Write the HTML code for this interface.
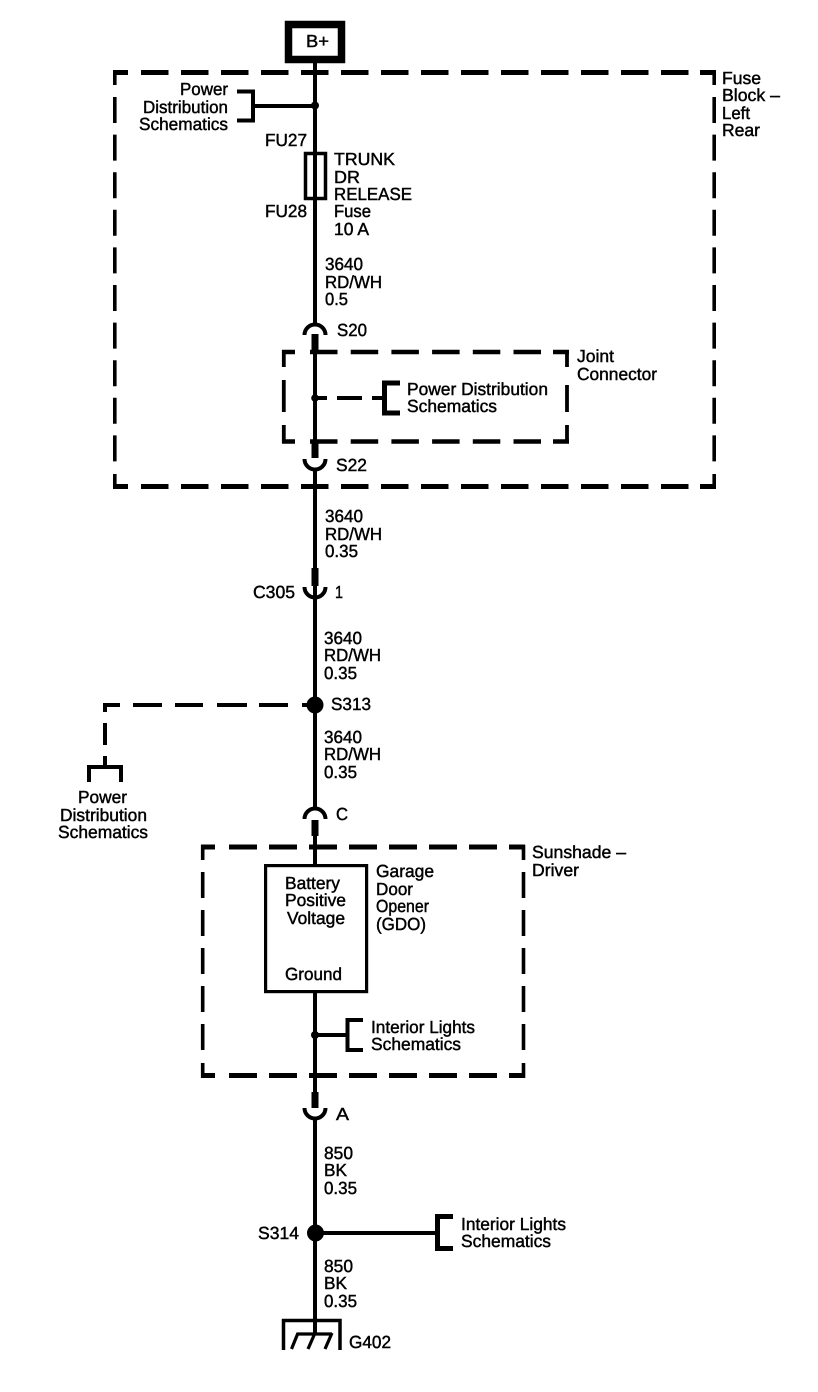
<!DOCTYPE html>
<html>
<head>
<meta charset="utf-8">
<style>
html,body{margin:0;padding:0;background:#fff;width:818px;height:1392px;overflow:hidden}
svg{display:block}
text{font-family:"Liberation Sans",sans-serif;font-size:17.5px;fill:#000;stroke:#000;stroke-width:.45;text-rendering:geometricPrecision}
.l{fill:none;stroke:#000;stroke-width:4}
.h{fill:none;stroke:#000;stroke-width:5}
.v{fill:none;stroke:#000;stroke-width:3.6}
</style>
</head>
<body>
<svg width="818" height="1392" viewBox="0 0 818 1392" xmlns="http://www.w3.org/2000/svg">
<!-- B+ -->
<rect x="288.5" y="24.500" width="53" height="35" fill="#fff" stroke="#000" stroke-width="7.5"/>
<text x="306" y="47" textLength="23" lengthAdjust="spacingAndGlyphs">B+</text>
<!-- main wire -->
<path class="l" d="M315 63V324M315 334V458M315 470V598M315 586V808M315 836V865M315 992V1108M315 1120V1333"/>
<!-- outer dashed -->
<path class="h" stroke-dasharray="27.500 12.500" d="M141 72.500H690"/>
<path class="h" d="M113 72.500H128M700 72.500H716"/>
<path class="h" stroke-dasharray="27.500 12.500" d="M141 486.500H690"/>
<path class="h" d="M113 486.500H128M700 486.500H716"/>
<path class="v" d="M114.800 70V85M714.200 70V85M114.800 474V489M714.200 474V489"/>
<path class="v" stroke-dasharray="26 11.600" d="M114.800 97V465"/>
<path class="v" stroke-dasharray="26 11.600" d="M714.200 97V465"/>
<!-- inner dashed -->
<path d="M310 352H552" fill="none" stroke="#000" stroke-width="4.500" stroke-dasharray="27.500 13.200"/>
<path d="M310 441.500H552" fill="none" stroke="#000" stroke-width="4.500" stroke-dasharray="27.500 13.200"/>
<path d="M282 352H295M553 352H569M282 441.500H295M553 441.500H569" fill="none" stroke="#000" stroke-width="4.500"/>
<path class="v" d="M283.800 350V367M283.800 380V412M283.800 425V443M567 350V367M567 385V412M567 425V443" style="stroke-width:3.800"/>
<!-- power dist top -->
<path class="l" d="M237 91.500H253V120.500H237M253 106H315"/>
<circle cx="315" cy="105.500" r="4"/>
<text x="180" y="95" textLength="48" lengthAdjust="spacingAndGlyphs">Power</text>
<text x="143" y="113" textLength="85" lengthAdjust="spacingAndGlyphs">Distribution</text>
<text x="139" y="130" textLength="89" lengthAdjust="spacingAndGlyphs">Schematics</text>
<text x="722" y="84" textLength="39" lengthAdjust="spacingAndGlyphs">Fuse</text>
<text x="722" y="101" textLength="58" lengthAdjust="spacingAndGlyphs">Block –</text>
<text x="722" y="119" textLength="28" lengthAdjust="spacingAndGlyphs">Left</text>
<text x="722" y="136" textLength="38" lengthAdjust="spacingAndGlyphs">Rear</text>
<!-- fuse -->
<rect x="305.500" y="153.500" width="20" height="45" fill="none" stroke="#000" stroke-width="3.500"/>
<text x="265" y="146" textLength="42" lengthAdjust="spacingAndGlyphs">FU27</text>
<text x="265" y="217" textLength="42" lengthAdjust="spacingAndGlyphs">FU28</text>
<text x="334" y="165" textLength="61" lengthAdjust="spacingAndGlyphs">TRUNK</text>
<text x="334" y="183" textLength="26" lengthAdjust="spacingAndGlyphs">DR</text>
<text x="334" y="200" textLength="78" lengthAdjust="spacingAndGlyphs">RELEASE</text>
<text x="334" y="217" textLength="37" lengthAdjust="spacingAndGlyphs">Fuse</text>
<text x="334" y="235" textLength="35" lengthAdjust="spacingAndGlyphs">10 A</text>
<text x="325" y="270" textLength="38" lengthAdjust="spacingAndGlyphs">3640</text>
<text x="325" y="288" textLength="57" lengthAdjust="spacingAndGlyphs">RD/WH</text>
<text x="325" y="305" textLength="23" lengthAdjust="spacingAndGlyphs">0.5</text>
<!-- S20 -->
<path class="l" d="M304.500 335A10.500 10.500 0 0 1 325.500 335"/>
<rect x="311.500" y="334" width="7" height="19"/>
<text x="337" y="336" textLength="30" lengthAdjust="spacingAndGlyphs">S20</text>
<text x="577" y="362" textLength="37" lengthAdjust="spacingAndGlyphs">Joint</text>
<text x="577" y="380" textLength="80" lengthAdjust="spacingAndGlyphs">Connector</text>
<!-- joint branch -->
<circle cx="315" cy="398" r="3.800"/>
<path class="l" d="M315 398H327M337 398H362M372 398H384"/>
<path d="M400 383H384.500V413H400" fill="none" stroke="#000" stroke-width="5"/>
<text x="407" y="395" textLength="141" lengthAdjust="spacingAndGlyphs">Power Distribution</text>
<text x="407" y="412" textLength="90" lengthAdjust="spacingAndGlyphs">Schematics</text>
<!-- S22 -->
<rect x="311.500" y="441" width="7" height="17"/>
<path class="l" d="M304.500 459A10.500 10.500 0 0 0 325.500 459"/>
<text x="336" y="471" textLength="31" lengthAdjust="spacingAndGlyphs">S22</text>
<text x="325" y="522" textLength="38" lengthAdjust="spacingAndGlyphs">3640</text>
<text x="325" y="540" textLength="57" lengthAdjust="spacingAndGlyphs">RD/WH</text>
<text x="325" y="557" textLength="33" lengthAdjust="spacingAndGlyphs">0.35</text>
<!-- C305 -->
<rect x="311.500" y="568" width="7" height="18"/>
<path class="l" d="M304.500 587A10.500 10.500 0 0 0 325.500 587"/>
<text x="253" y="598" textLength="42" lengthAdjust="spacingAndGlyphs">C305</text>
<text x="335" y="598" textLength="8" lengthAdjust="spacingAndGlyphs">1</text>
<text x="324" y="644" textLength="38" lengthAdjust="spacingAndGlyphs">3640</text>
<text x="324" y="661" textLength="57" lengthAdjust="spacingAndGlyphs">RD/WH</text>
<text x="324" y="679" textLength="33" lengthAdjust="spacingAndGlyphs">0.35</text>
<!-- S313 -->
<circle cx="315" cy="705" r="8.500"/>
<text x="331" y="710" textLength="40" lengthAdjust="spacingAndGlyphs">S313</text>
<path class="l" d="M307 705H302M288 705H259M247 705H217M203 705H175M162 705H133M120 705H105V712M105 723V745M105 756V765M89 782V767H121V782"/>
<text x="78" y="803" textLength="49" lengthAdjust="spacingAndGlyphs">Power</text>
<text x="60" y="821" textLength="87" lengthAdjust="spacingAndGlyphs">Distribution</text>
<text x="58" y="838" textLength="90" lengthAdjust="spacingAndGlyphs">Schematics</text>
<text x="324" y="743" textLength="38" lengthAdjust="spacingAndGlyphs">3640</text>
<text x="324" y="760" textLength="57" lengthAdjust="spacingAndGlyphs">RD/WH</text>
<text x="324" y="778" textLength="33" lengthAdjust="spacingAndGlyphs">0.35</text>
<!-- C conn -->
<path class="l" d="M304.500 819A10.500 10.500 0 0 1 325.500 819"/>
<rect x="311.500" y="820" width="7" height="16"/>
<text x="336" y="820" textLength="12" lengthAdjust="spacingAndGlyphs">C</text>
<!-- sunshade dashed -->
<path class="h" stroke-dasharray="28 12" d="M229 847H500"/>
<path class="h" stroke-dasharray="28 12" d="M229 1075.500H500"/>
<path class="h" d="M201 847H215M509 847H525M201 1075.500H215M509 1075.500H525"/>
<path class="v" d="M202.700 845V860M523.500 845V860M202.700 1063V1078M523.500 1063V1078"/>
<path class="v" stroke-dasharray="26 12" d="M202.700 872V1052"/>
<path class="v" stroke-dasharray="26 12" d="M523.500 872V1052"/>
<text x="532" y="858" textLength="94" lengthAdjust="spacingAndGlyphs">Sunshade –</text>
<text x="532" y="876" textLength="47" lengthAdjust="spacingAndGlyphs">Driver</text>
<!-- GDO box -->
<rect x="265.600" y="865.600" width="101" height="126" fill="#fff" stroke="#000" stroke-width="3.200"/>
<text x="285" y="889" textLength="55" lengthAdjust="spacingAndGlyphs">Battery</text>
<text x="285" y="906" textLength="61" lengthAdjust="spacingAndGlyphs">Positive</text>
<text x="287" y="924" textLength="58" lengthAdjust="spacingAndGlyphs">Voltage</text>
<text x="285" y="980" textLength="57" lengthAdjust="spacingAndGlyphs">Ground</text>
<text x="376" y="877" textLength="58" lengthAdjust="spacingAndGlyphs">Garage</text>
<text x="376" y="895" textLength="37" lengthAdjust="spacingAndGlyphs">Door</text>
<text x="376" y="912" textLength="53" lengthAdjust="spacingAndGlyphs">Opener</text>
<text x="376" y="930" textLength="50" lengthAdjust="spacingAndGlyphs">(GDO)</text>
<!-- interior 1 -->
<circle cx="315" cy="1035" r="4"/>
<path class="l" d="M315 1035H347M363 1020H347.500V1050H363"/>
<text x="371" y="1033" textLength="104" lengthAdjust="spacingAndGlyphs">Interior Lights</text>
<text x="371" y="1050" textLength="90" lengthAdjust="spacingAndGlyphs">Schematics</text>
<!-- A -->
<rect x="311.500" y="1092" width="7" height="16"/>
<path class="l" d="M304.500 1108A10.500 10.500 0 0 0 325.500 1108"/>
<text x="336" y="1120" textLength="13" lengthAdjust="spacingAndGlyphs">A</text>
<text x="324" y="1159" textLength="29" lengthAdjust="spacingAndGlyphs">850</text>
<text x="324" y="1176" textLength="23" lengthAdjust="spacingAndGlyphs">BK</text>
<text x="324" y="1194" textLength="33" lengthAdjust="spacingAndGlyphs">0.35</text>
<!-- S314 -->
<circle cx="315.500" cy="1233" r="8.500"/>
<text x="258" y="1239" textLength="41" lengthAdjust="spacingAndGlyphs">S314</text>
<path class="l" d="M315 1233H438"/>
<path d="M453 1216.500H437.500V1248.500H453" fill="none" stroke="#000" stroke-width="5"/>
<text x="461" y="1230" textLength="105" lengthAdjust="spacingAndGlyphs">Interior Lights</text>
<text x="461" y="1247" textLength="90" lengthAdjust="spacingAndGlyphs">Schematics</text>
<text x="324" y="1272" textLength="29" lengthAdjust="spacingAndGlyphs">850</text>
<text x="324" y="1289" textLength="23" lengthAdjust="spacingAndGlyphs">BK</text>
<text x="324" y="1307" textLength="33" lengthAdjust="spacingAndGlyphs">0.35</text>
<!-- ground -->
<path d="M283.500 1350V1320.500H340V1350" fill="none" stroke="#000" stroke-width="3.500"/>
<path d="M297 1334H332M298 1333L291.500 1349M315 1333L308 1349M332 1333L325 1349" fill="none" stroke="#000" stroke-width="3.200"/>
<text x="349" y="1348" textLength="42" lengthAdjust="spacingAndGlyphs">G402</text>
</svg>
</body>
</html>
